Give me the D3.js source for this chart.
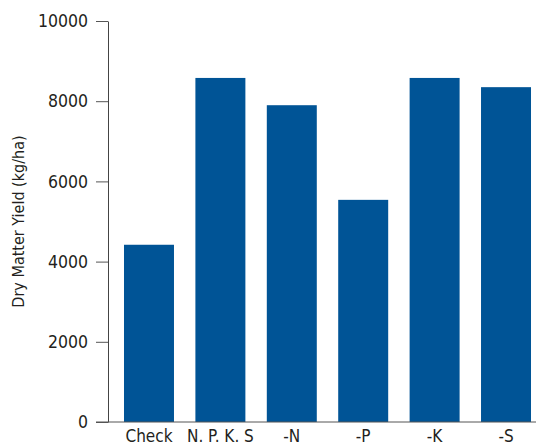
<!DOCTYPE html>
<html>
<head>
<meta charset="utf-8">
<script src="https://cdn.jsdelivr.net/npm/d3@7"></script>
<style>
  body { margin: 0; background: #fff; }
  svg text { font-family: "DejaVu Sans Condensed", "DejaVu Sans", sans-serif; font-stretch: condensed; fill: #231f20; }
</style>
</head>
<body>
<script>
// chart data
const treatments = ["Check", "N. P. K. S", "-N", "-P", "-K", "-S"];
const yieldValues = [4420, 8580, 7900, 5540, 8580, 8350];
const yTicks = [0, 2000, 4000, 6000, 8000, 10000];

const width = 536, height = 446;
const svg = d3.select("body").append("svg")
              .attr("width", width)
              .attr("height", height);

const xScale = d3.scaleBand()
                 .domain(treatments)
                 .range([108, 547])
                 .paddingInner(0.3)
                 .paddingOuter(0.224),
      yScale = d3.scaleLinear()
                 .domain([0, 10000])
                 .range([422, 21]);

// bars
svg.selectAll("rect.bar")
   .data(treatments)
   .enter()
   .append("rect")
   .attr("class", "bar")
   .attr("x", d => xScale(d))
   .attr("y", (d, i) => yScale(yieldValues[i]))
   .attr("width", xScale.bandwidth())
   .attr("height", (d, i) => yScale(0) - yScale(yieldValues[i]))
   .attr("fill", "#005496");

// y axis
const yAxis = svg.append("g")
                 .attr("transform", "translate(108,0)")
                 .call(d3.axisLeft(yScale).tickValues(yTicks).tickSize(12).tickPadding(8).tickSizeOuter(0).tickFormat(d3.format("d")));
yAxis.select(".domain").attr("stroke", "#444");
yAxis.selectAll(".tick line").attr("stroke", "#555");
yAxis.selectAll(".tick text").style("font-size", "17.5px");

// x baseline
svg.append("line")
   .attr("x1", 96).attr("x2", width)
   .attr("y1", yScale(0)).attr("y2", yScale(0))
   .attr("stroke", "#555");

// x labels
svg.selectAll("text.xlab")
   .data(treatments)
   .enter()
   .append("text")
   .attr("class", "xlab")
   .attr("x", d => xScale(d) + xScale.bandwidth() / 2)
   .attr("y", 442)
   .attr("text-anchor", "middle")
   .style("font-size", "17px")
   .text(d => d);

// y title
svg.append("text")
   .attr("transform", "translate(24," + (yScale(5000)) + ") rotate(-90)")
   .attr("text-anchor", "middle")
   .style("font-size", "16px")
   .text("Dry Matter Yield (kg/ha)");
</script>
</body>
</html>
